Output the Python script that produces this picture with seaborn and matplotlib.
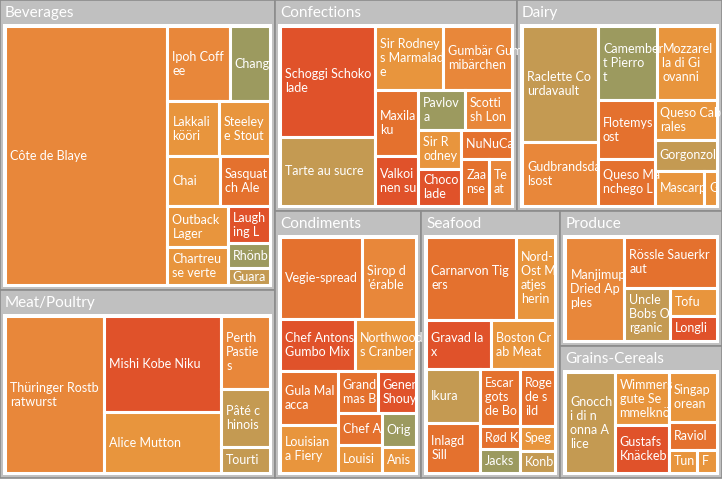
"""
Northwind products treemap (squarified) drawn with seaborn / matplotlib patches
"""
import matplotlib
matplotlib.use("Agg")
import matplotlib.pyplot as plt
from matplotlib.patches import Rectangle
import seaborn as sns

# ---- data -------------------------------------------------------------
categories = ["Beverages", "Meat/Poultry", "Confections", "Dairy",
              "Condiments", "Seafood", "Produce", "Grains-Cereals"]

beverages = ["Côte de Blaye", "Ipoh Coffee", "Chang", "Lakkalikööri", "Steeleye Stout", "Chai",
             "Sasquatch Ale", "Outback Lager", "Chartreuse verte", "Laughing Lumberjack Lager",
             "Rhönbräu Klosterbier", "Guaraná Fantástica"]
beverages_val = [40400, 4500, 2900, 2700, 2700, 2500, 2400, 2400, 2200, 1500, 1000, 700]

meat = ["Thüringer Rostbratwurst", "Mishi Kobe Niku", "Alice Mutton", "Perth Pasties",
        "Pâté chinois", "Tourtière"]
meat_val = [16000, 11500, 7300, 3600, 2900, 1300]

confections = ["Schoggi Schokolade", "Tarte au sucre", "Sir Rodneys Marmalade",
               "Gumbär Gummibärchen", "Maxilaku", "Valkoinen suklaa", "Pavlova",
               "Scottish Longbreads", "Sir Rodneys Scones", "Chocolade", "NuNuCa Nuß-Nougat-Creme",
               "Zaanse koeken", "Teatime Chocolate Biscuits"]
confections_val = [10600, 6650, 4400, 4400, 2900, 2200, 1900, 1900, 1700, 1600, 1500, 1300, 1100]

dairy = ["Raclette Courdavault", "Gudbrandsdalsost", "Camembert Pierrot", "Mozzarella di Giovanni",
         "Flotemysost", "Queso Manchego La Pastora", "Queso Cabrales", "Gorgonzola Telino",
         "Mascarpone Fabioli", "Geitost"]
dairy_val = [9000, 4900, 4500, 4500, 3400, 2700, 2500, 2000, 1750, 450]

condiments = ["Vegie-spread", "Sirop d'érable", "Chef Antons Gumbo Mix", "Northwoods Cranberry Sauce",
              "Gula Malacca", "Louisiana Fiery Hot Pepper Sauce", "Grandmas Boysenberry Spread",
              "Genen Shouyu", "Chef Antons Cajun Seasoning", "Louisiana Hot Spiced Okra",
              "Original Frankfurter grüne Soße", "Aniseed Syrup"]
condiments_val = [6800, 4500, 3900, 3200, 3100, 2800, 1650, 1600, 1400, 1250, 1200, 900]

seafood = ["Carnarvon Tigers", "Nord-Ost Matjeshering", "Gravad lax", "Boston Crab Meat", "Ikura",
           "Inlagd Sill", "Escargots de Bourgogne", "Rogede sild", "Rød Kaviar",
           "Jacks New England Clam Chowder", "Spegesild", "Konbu"]
seafood_val = [7500, 3300, 3200, 3200, 2900, 2700, 2300, 2000, 950, 950, 900, 800]

produce = ["Manjimup Dried Apples", "Rössle Sauerkraut", "Uncle Bobs Organic Dried Pears",
           "Tofu", "Longlife Tofu"]
produce_val = [7000, 5400, 2800, 1500, 1350]

grains = ["Gnocchi di nonna Alice", "Wimmers gute Semmelknödel", "Gustafs Knäckebröd",
          "Singaporean Hokkien Fried Mee", "Ravioli Angelo", "Tunnbröd", "Filo Mix"]
grains_val = [5700, 3300, 3000, 2750, 1550, 770, 530]

products = [beverages, meat, confections, dairy, condiments, seafood, produce, grains]
product_vals = [beverages_val, meat_val, confections_val, dairy_val,
                condiments_val, seafood_val, produce_val, grains_val]

# ---- colours (style) --------------------------------------------------
OR, LO, DO, RD, TN, OL = "#e8873a", "#e8953d", "#e4712e", "#e0522a", "#c49a52", "#9c9a5f"
colors = {
    "Côte de Blaye": OR, "Ipoh Coffee": OR, "Chang": OL, "Lakkalikööri": LO, "Steeleye Stout": LO,
    "Chai": LO, "Sasquatch Ale": DO, "Outback Lager": LO, "Chartreuse verte": LO,
    "Laughing Lumberjack Lager": RD, "Rhönbräu Klosterbier": OL, "Guaraná Fantástica": TN,
    "Thüringer Rostbratwurst": OR, "Mishi Kobe Niku": RD, "Alice Mutton": LO, "Perth Pasties": OR,
    "Pâté chinois": TN, "Tourtière": TN,
    "Schoggi Schokolade": RD, "Tarte au sucre": TN, "Sir Rodneys Marmalade": LO,
    "Gumbär Gummibärchen": OR, "Maxilaku": DO, "Valkoinen suklaa": RD, "Pavlova": OL,
    "Scottish Longbreads": OR, "Sir Rodneys Scones": LO, "Chocolade": RD,
    "NuNuCa Nuß-Nougat-Creme": DO, "Zaanse koeken": DO, "Teatime Chocolate Biscuits": OR,
    "Raclette Courdavault": TN, "Gudbrandsdalsost": OR, "Camembert Pierrot": OL,
    "Mozzarella di Giovanni": LO, "Flotemysost": DO, "Queso Manchego La Pastora": DO,
    "Queso Cabrales": LO, "Gorgonzola Telino": TN, "Mascarpone Fabioli": LO, "Geitost": LO,
    "Vegie-spread": DO, "Sirop d'érable": OR, "Chef Antons Gumbo Mix": RD,
    "Northwoods Cranberry Sauce": LO, "Gula Malacca": DO, "Louisiana Fiery Hot Pepper Sauce": LO,
    "Grandmas Boysenberry Spread": DO, "Genen Shouyu": RD, "Chef Antons Cajun Seasoning": DO,
    "Louisiana Hot Spiced Okra": LO, "Original Frankfurter grüne Soße": OL, "Aniseed Syrup": LO,
    "Carnarvon Tigers": DO, "Nord-Ost Matjeshering": LO, "Gravad lax": RD, "Boston Crab Meat": LO,
    "Ikura": TN, "Inlagd Sill": DO, "Escargots de Bourgogne": DO, "Rogede sild": DO,
    "Rød Kaviar": DO, "Jacks New England Clam Chowder": OL, "Spegesild": LO, "Konbu": TN,
    "Manjimup Dried Apples": OR, "Rössle Sauerkraut": DO, "Uncle Bobs Organic Dried Pears": TN,
    "Tofu": LO, "Longlife Tofu": RD,
    "Gnocchi di nonna Alice": TN, "Wimmers gute Semmelknödel": LO, "Gustafs Knäckebröd": RD,
    "Singaporean Hokkien Fried Mee": LO, "Ravioli Angelo": DO, "Tunnbröd": LO, "Filo Mix": LO,
}


# ---- squarified layout ------------------------------------------------
def worst(row, side):
    s = sum(row)
    return max(max(side * side * r / (s * s), s * s / (side * side * r)) for r in row)


def squarify(values, x, y, w, h):
    total = sum(values)
    areas = [v * w * h / total for v in values]
    rects = []
    i = 0
    while i < len(areas):
        side = min(w, h)
        row = [areas[i]]
        j = i + 1
        while j < len(areas) and worst(row + [areas[j]], side) <= worst(row, side):
            row.append(areas[j])
            j += 1
        s = sum(row)
        if w >= h:  # column on the left
            cw = s / h
            cy = y
            for a in row:
                rects.append((x, cy, cw, a / cw))
                cy += a / cw
            x += cw
            w -= cw
        else:  # row on top
            rh = s / w
            cx = x
            for a in row:
                rects.append((cx, y, a / rh, rh))
                cx += a / rh
            y += rh
            h -= rh
        i = j
    return rects


def wrap_chars(text, n):
    lines = []
    while text:
        text = text.lstrip()
        lines.append(text[:n])
        text = text[n:]
    return lines


sns.set_theme(style="white")
plt.rcParams['font.family'] = ['Lato', 'DejaVu Sans']

fig = plt.figure(figsize=(7.22, 4.93), dpi=100)
ax = fig.add_axes([0, 0, 1, 1])
ax.set_xlim(0, 722)
ax.set_ylim(493, 0)
ax.axis("off")

W, H = 722, 478
HEAD = 24
totals = [sum(v) for v in product_vals]
cat_rects = squarify(totals, 0, 0, W, H)

for cat, (cx, cy, cw, ch), names, vals in zip(categories, cat_rects, products, product_vals):
    ax.add_patch(Rectangle((cx, cy), cw, ch, facecolor="#c0c0c0", edgecolor="#8c8c8c", lw=1.2))
    ax.text(cx + 5, cy + HEAD / 2 + 1, cat, color="white", fontsize=11, va="center", ha="left")
    ix, iy, iw, ih = cx + 3, cy + HEAD, cw - 6, ch - HEAD - 3
    ax.add_patch(Rectangle((ix, iy), iw, ih, facecolor="white", edgecolor="none"))
    order = sorted(range(len(vals)), key=lambda k: -vals[k])
    rects = squarify([vals[k] for k in order], ix + 2, iy + 2, iw - 4, ih - 4)
    for k, (rx, ry, rw, rh) in zip(order, rects):
        tile = Rectangle((rx, ry), rw, rh, facecolor=colors[names[k]], edgecolor="white", lw=2.2)
        ax.add_patch(tile)
        n = max(1, int((rw - 8) / 5.9))
        lines = wrap_chars(names[k], n)
        maxl = max(1, int((rh - 4) / 16))
        lines = lines[:maxl]
        t = ax.text(rx + 5, ry + rh / 2, "\n".join(lines), color="white", fontsize=9,
                    va="center", ha="left", linespacing=1.2)
        t.set_clip_path(tile)

fig.savefig("out.png", dpi=100)
